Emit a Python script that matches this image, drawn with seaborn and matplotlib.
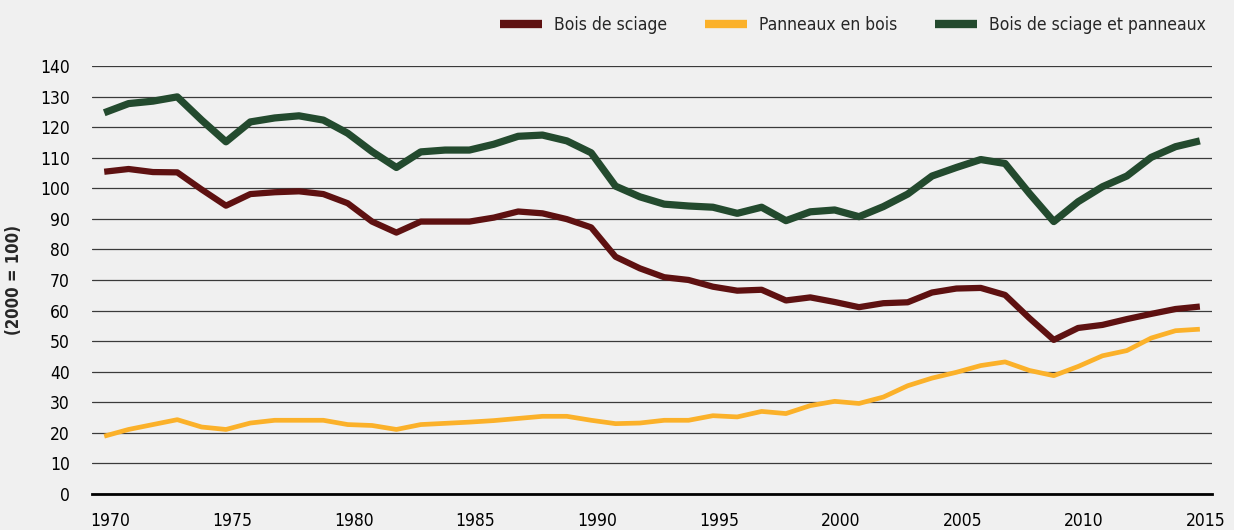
import pandas as pd
import seaborn as sns
import matplotlib.pyplot as plt
import matplotlib.transforms as mtransforms
import numpy as np

years = list(range(1970, 2016))

bois_sciage = [105.4, 106.3, 105.3, 105.2, 99.6, 94.3, 98.1, 98.7, 99.0, 98.1,
               95.1, 89.1, 85.5, 89.1, 89.1, 89.1, 90.4, 92.4, 91.8, 89.9,
               87.2, 77.6, 73.8, 70.9, 70.0, 67.8, 66.5, 66.8, 63.3, 64.3,
               62.8, 61.1, 62.4, 62.7, 65.9, 67.2, 67.4, 65.1, 57.5, 50.4,
               54.3, 55.3, 57.2, 58.9, 60.5, 61.3]

panneaux = [18.9, 21.1, 22.7, 24.3, 21.9, 21.1, 23.2, 24.1, 24.1, 24.1,
            22.7, 22.4, 21.1, 22.7, 23.1, 23.5, 24.0, 24.7, 25.4, 25.4,
            24.1, 23.0, 23.2, 24.1, 24.1, 25.6, 25.2, 27.0, 26.3, 28.9,
            30.3, 29.6, 31.7, 35.4, 37.9, 39.8, 42.0, 43.2, 40.4, 38.7,
            41.7, 45.2, 46.9, 51.0, 53.4, 53.9]

total = [124.7, 127.7, 128.5, 129.9, 122.3, 115.2, 121.7, 123.0, 123.7, 122.3,
         118.0, 112.0, 106.8, 111.9, 112.5, 112.5, 114.4, 117.0, 117.4, 115.5,
         111.6, 100.7, 97.2, 94.8, 94.2, 93.8, 91.8, 93.8, 89.4, 92.3,
         92.9, 90.7, 94.0, 98.1, 104.0, 106.8, 109.4, 108.1, 98.3, 89.1,
         95.6, 100.5, 104.0, 110.1, 113.6, 115.5]

series_names = ['Bois de sciage', 'Panneaux en bois', 'Bois de sciage et panneaux']
colors = ['#5E1111', '#FBB12A', '#234A2E']
widths = [4.5, 3.4, 5.2]

df = pd.DataFrame({'year': years * 3,
                   'value': bois_sciage + panneaux + total,
                   'serie': [series_names[0]] * 46 + [series_names[1]] * 46 + [series_names[2]] * 46})

sns.set_style('white')
plt.rcParams['font.family'] = ['DejaVu Sans']
plt.rcParams['font.stretch'] = 'condensed'
bg = '#F0F0F0'

fig = plt.figure(figsize=(12.34, 5.30), dpi=100, facecolor=bg)
ax = fig.add_axes([0.0746, 0.068, 0.9076, 0.8075], facecolor=bg)

sns.lineplot(data=df, x='year', y='value', hue='serie', hue_order=series_names,
             palette=colors, ax=ax, legend=False, solid_capstyle='butt')
for line, w in zip(ax.lines, widths):
    line.set_linewidth(w)

ax.set_ylim(0, 140)
ax.set_xlim(1969.5, 2015.5)
ax.set_yticks(range(0, 141, 10))
ax.set_xticks(range(1970, 2016, 5))
ax.grid(axis='y', color='#3a3a3a', linewidth=0.9)
ax.set_axisbelow(True)
for s in ['top', 'right', 'left']:
    ax.spines[s].set_visible(False)
ax.spines['bottom'].set_color('black')
ax.spines['bottom'].set_linewidth(2)
ax.tick_params(axis='y', length=0, pad=16, labelsize=12.5, labelcolor='black')
ax.tick_params(axis='x', length=5, width=0.8, color='#333333', direction='out', pad=8,
               labelsize=12.5, labelcolor='black')
# x labels sit a little right of their ticks in the original
shift = mtransforms.ScaledTranslation(6 / 100, 0, fig.dpi_scale_trans)
for lab in ax.get_xticklabels():
    lab.set_transform(lab.get_transform() + shift)
ax.set_xlabel('')
ax.set_ylabel('(2000 = 100)', fontsize=12, fontweight='bold', labelpad=12)

handles = [plt.Line2D([], [], color=c, linewidth=6, solid_capstyle='butt') for c in colors]
fig.legend(handles, series_names, loc='upper right', bbox_to_anchor=(0.99, 1.0), ncol=3,
           frameon=False, handlelength=2.4, columnspacing=2.2, handletextpad=0.7,
           prop={'size': 12.5, 'stretch': 'condensed'})

plt.savefig('out.png', dpi=100, facecolor=bg)
